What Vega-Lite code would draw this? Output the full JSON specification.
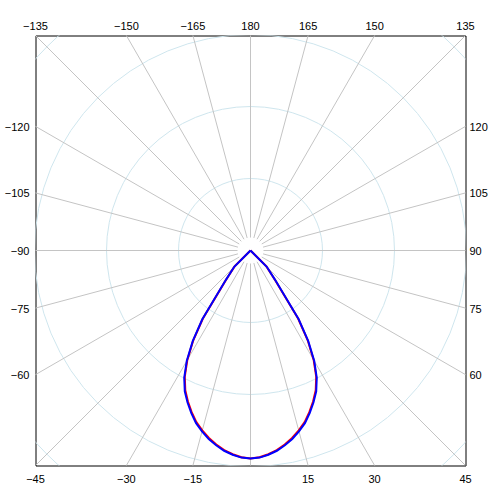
{
  "$schema": "https://vega.github.io/schema/vega-lite/v6.json",
  "width": 430,
  "height": 430,
  "autosize": {"type": "none"},
  "padding": {"left": 35.5, "top": 35.5, "right": 34.5, "bottom": 34.5},
  "background": "white",
  "config": {
    "view": {"stroke": "black", "strokeWidth": 1},
    "text": {"font": "Liberation Sans", "fontSize": 11, "color": "black"}
  },
  "datasets": {
    "rings": [{"r": 72}, {"r": 144}, {"r": 216}, {"r": 288}],
    "spokes": [
      {"a": -165, "label": "−165"}, {"a": -150, "label": "−150"}, {"a": -135, "label": "−135"},
      {"a": -120, "label": "−120"}, {"a": -105, "label": "−105"}, {"a": -90, "label": "−90"},
      {"a": -75, "label": "−75"}, {"a": -60, "label": "−60"}, {"a": -45, "label": "−45"},
      {"a": -30, "label": "−30"}, {"a": -15, "label": "−15"}, {"a": 0, "label": ""},
      {"a": 15, "label": "15"}, {"a": 30, "label": "30"}, {"a": 45, "label": "45"},
      {"a": 60, "label": "60"}, {"a": 75, "label": "75"}, {"a": 90, "label": "90"},
      {"a": 105, "label": "105"}, {"a": 120, "label": "120"}, {"a": 135, "label": "135"},
      {"a": 150, "label": "150"}, {"a": 165, "label": "165"}, {"a": 180, "label": "180"}
    ],
    "curve": [
      {"plane": "C0-C180", "angle": -50, "r": 0},
      {"plane": "C0-C180", "angle": -45, "r": 22.5},
      {"plane": "C0-C180", "angle": -40, "r": 37.5},
      {"plane": "C0-C180", "angle": -35, "r": 83},
      {"plane": "C0-C180", "angle": -32.5, "r": 106.5},
      {"plane": "C0-C180", "angle": -30, "r": 126.3},
      {"plane": "C0-C180", "angle": -27.5, "r": 142.3},
      {"plane": "C0-C180", "angle": -25, "r": 154.3},
      {"plane": "C0-C180", "angle": -22.5, "r": 163.5},
      {"plane": "C0-C180", "angle": -20, "r": 172},
      {"plane": "C0-C180", "angle": -17.5, "r": 180},
      {"plane": "C0-C180", "angle": -15, "r": 186.3},
      {"plane": "C0-C180", "angle": -12.5, "r": 192},
      {"plane": "C0-C180", "angle": -10, "r": 197},
      {"plane": "C0-C180", "angle": -7.5, "r": 201.3},
      {"plane": "C0-C180", "angle": -5, "r": 204.5},
      {"plane": "C0-C180", "angle": -2.5, "r": 207},
      {"plane": "C0-C180", "angle": 0, "r": 208},
      {"plane": "C0-C180", "angle": 2.5, "r": 207},
      {"plane": "C0-C180", "angle": 5, "r": 204.5},
      {"plane": "C0-C180", "angle": 7.5, "r": 201.3},
      {"plane": "C0-C180", "angle": 10, "r": 197},
      {"plane": "C0-C180", "angle": 12.5, "r": 192},
      {"plane": "C0-C180", "angle": 15, "r": 186.3},
      {"plane": "C0-C180", "angle": 17.5, "r": 180},
      {"plane": "C0-C180", "angle": 20, "r": 172},
      {"plane": "C0-C180", "angle": 22.5, "r": 163.5},
      {"plane": "C0-C180", "angle": 25, "r": 154.3},
      {"plane": "C0-C180", "angle": 27.5, "r": 142.3},
      {"plane": "C0-C180", "angle": 30, "r": 126.3},
      {"plane": "C0-C180", "angle": 32.5, "r": 106.5},
      {"plane": "C0-C180", "angle": 35, "r": 83},
      {"plane": "C0-C180", "angle": 40, "r": 37.5},
      {"plane": "C0-C180", "angle": 45, "r": 22.5},
      {"plane": "C0-C180", "angle": 50, "r": 0},
      {"plane": "C90-C270", "angle": -50, "r": 0},
      {"plane": "C90-C270", "angle": -45, "r": 23},
      {"plane": "C90-C270", "angle": -40, "r": 38},
      {"plane": "C90-C270", "angle": -35, "r": 84},
      {"plane": "C90-C270", "angle": -32.5, "r": 107.5},
      {"plane": "C90-C270", "angle": -30, "r": 127.5},
      {"plane": "C90-C270", "angle": -27.5, "r": 143.5},
      {"plane": "C90-C270", "angle": -25, "r": 155.5},
      {"plane": "C90-C270", "angle": -22.5, "r": 164.5},
      {"plane": "C90-C270", "angle": -20, "r": 173},
      {"plane": "C90-C270", "angle": -17.5, "r": 181},
      {"plane": "C90-C270", "angle": -15, "r": 187.3},
      {"plane": "C90-C270", "angle": -12.5, "r": 193},
      {"plane": "C90-C270", "angle": -10, "r": 197.8},
      {"plane": "C90-C270", "angle": -7.5, "r": 202},
      {"plane": "C90-C270", "angle": -5, "r": 205},
      {"plane": "C90-C270", "angle": -2.5, "r": 207.3},
      {"plane": "C90-C270", "angle": 0, "r": 208},
      {"plane": "C90-C270", "angle": 2.5, "r": 207.3},
      {"plane": "C90-C270", "angle": 5, "r": 205},
      {"plane": "C90-C270", "angle": 7.5, "r": 202},
      {"plane": "C90-C270", "angle": 10, "r": 197.8},
      {"plane": "C90-C270", "angle": 12.5, "r": 193},
      {"plane": "C90-C270", "angle": 15, "r": 187.3},
      {"plane": "C90-C270", "angle": 17.5, "r": 181},
      {"plane": "C90-C270", "angle": 20, "r": 173},
      {"plane": "C90-C270", "angle": 22.5, "r": 164.5},
      {"plane": "C90-C270", "angle": 25, "r": 155.5},
      {"plane": "C90-C270", "angle": 27.5, "r": 143.5},
      {"plane": "C90-C270", "angle": 30, "r": 127.5},
      {"plane": "C90-C270", "angle": 32.5, "r": 107.5},
      {"plane": "C90-C270", "angle": 35, "r": 84},
      {"plane": "C90-C270", "angle": 40, "r": 38},
      {"plane": "C90-C270", "angle": 45, "r": 23},
      {"plane": "C90-C270", "angle": 50, "r": 0}
    ]
  },
  "layer": [
    {
      "data": {"name": "rings"},
      "mark": {"type": "point", "shape": "circle", "filled": false, "stroke": "#cfe6ee", "strokeWidth": 1, "opacity": 1, "clip": true},
      "encoding": {
        "x": {"datum": 0, "type": "quantitative", "scale": {"domain": [-215, 215], "nice": false, "zero": false}, "axis": null},
        "y": {"datum": 0, "type": "quantitative", "scale": {"domain": [-215, 215], "nice": false, "zero": false}, "axis": null},
        "size": {"field": "r", "type": "quantitative", "scale": {"type": "pow", "exponent": 2, "domain": [0, 215], "range": [0, 184900]}, "legend": null}
      }
    },
    {
      "data": {"name": "spokes"},
      "transform": [
        {"calculate": "datum.a * PI / 180", "as": "rad"},
        {"calculate": "13 * sin(datum.rad)", "as": "x1"},
        {"calculate": "-13 * cos(datum.rad)", "as": "y1"},
        {"calculate": "320 * sin(datum.rad)", "as": "x2"},
        {"calculate": "-320 * cos(datum.rad)", "as": "y2"}
      ],
      "mark": {"type": "rule", "color": "#c4c4c4", "strokeWidth": 1, "clip": true},
      "encoding": {
        "x": {"field": "x1", "type": "quantitative"},
        "y": {"field": "y1", "type": "quantitative"},
        "x2": {"field": "x2"},
        "y2": {"field": "y2"}
      }
    },
    {
      "data": {"name": "curve"},
      "transform": [
        {"filter": "datum.plane == 'C0-C180'"},
        {"calculate": "datum.r * sin(datum.angle * PI / 180)", "as": "cx"},
        {"calculate": "-datum.r * cos(datum.angle * PI / 180)", "as": "cy"}
      ],
      "mark": {"type": "line", "color": "#ff0000", "strokeWidth": 2, "clip": true},
      "encoding": {
        "x": {"field": "cx", "type": "quantitative"},
        "y": {"field": "cy", "type": "quantitative"},
        "order": {"field": "angle", "type": "quantitative"}
      }
    },
    {
      "data": {"name": "curve"},
      "transform": [
        {"filter": "datum.plane == 'C90-C270'"},
        {"calculate": "datum.r * sin(datum.angle * PI / 180)", "as": "cx"},
        {"calculate": "-datum.r * cos(datum.angle * PI / 180)", "as": "cy"}
      ],
      "mark": {"type": "line", "color": "#0000ff", "strokeWidth": 2, "clip": true},
      "encoding": {
        "x": {"field": "cx", "type": "quantitative"},
        "y": {"field": "cy", "type": "quantitative"},
        "order": {"field": "angle", "type": "quantitative"}
      }
    },
    {
      "data": {"name": "spokes"},
      "transform": [
        {"calculate": "datum.a * PI / 180", "as": "rad"},
        {"calculate": "sin(datum.rad)", "as": "sx"},
        {"calculate": "-cos(datum.rad)", "as": "sy"},
        {"calculate": "max(abs(datum.sx), abs(datum.sy))", "as": "m"},
        {"calculate": "215 * datum.sx / datum.m", "as": "ex"},
        {"calculate": "215 * datum.sy / datum.m", "as": "ey"},
        {"calculate": "abs(datum.sy) >= abs(datum.sx) - 0.000001 ? (datum.sy > 0 ? 'top' : 'bottom') : (datum.sx < 0 ? 'left' : 'right')", "as": "side"}
      ],
      "layer": [
        {
          "transform": [{"filter": "datum.side == 'top'"}],
          "mark": {"type": "text", "align": "center", "baseline": "alphabetic", "dy": -6, "clip": false},
          "encoding": {
            "x": {"field": "ex", "type": "quantitative"},
            "y": {"field": "ey", "type": "quantitative"},
            "text": {"field": "label"}
          }
        },
        {
          "transform": [{"filter": "datum.side == 'bottom'"}],
          "mark": {"type": "text", "align": "center", "baseline": "alphabetic", "dy": 17, "clip": false},
          "encoding": {
            "x": {"field": "ex", "type": "quantitative"},
            "y": {"field": "ey", "type": "quantitative"},
            "text": {"field": "label"}
          }
        },
        {
          "transform": [{"filter": "datum.side == 'left'"}],
          "mark": {"type": "text", "align": "right", "baseline": "middle", "dx": -6, "dy": 1.5, "clip": false},
          "encoding": {
            "x": {"field": "ex", "type": "quantitative"},
            "y": {"field": "ey", "type": "quantitative"},
            "text": {"field": "label"}
          }
        },
        {
          "transform": [{"filter": "datum.side == 'right'"}],
          "mark": {"type": "text", "align": "left", "baseline": "middle", "dx": 4, "dy": 1.5, "clip": false},
          "encoding": {
            "x": {"field": "ex", "type": "quantitative"},
            "y": {"field": "ey", "type": "quantitative"},
            "text": {"field": "label"}
          }
        }
      ]
    },
    {
      "mark": {"type": "rect", "filled": false, "stroke": "black", "strokeWidth": 1, "clip": false},
      "encoding": {
        "x": {"datum": -250, "type": "quantitative"},
        "x2": {"datum": 249},
        "y": {"datum": 250, "type": "quantitative"},
        "y2": {"datum": -249}
      }
    }
  ]
}
